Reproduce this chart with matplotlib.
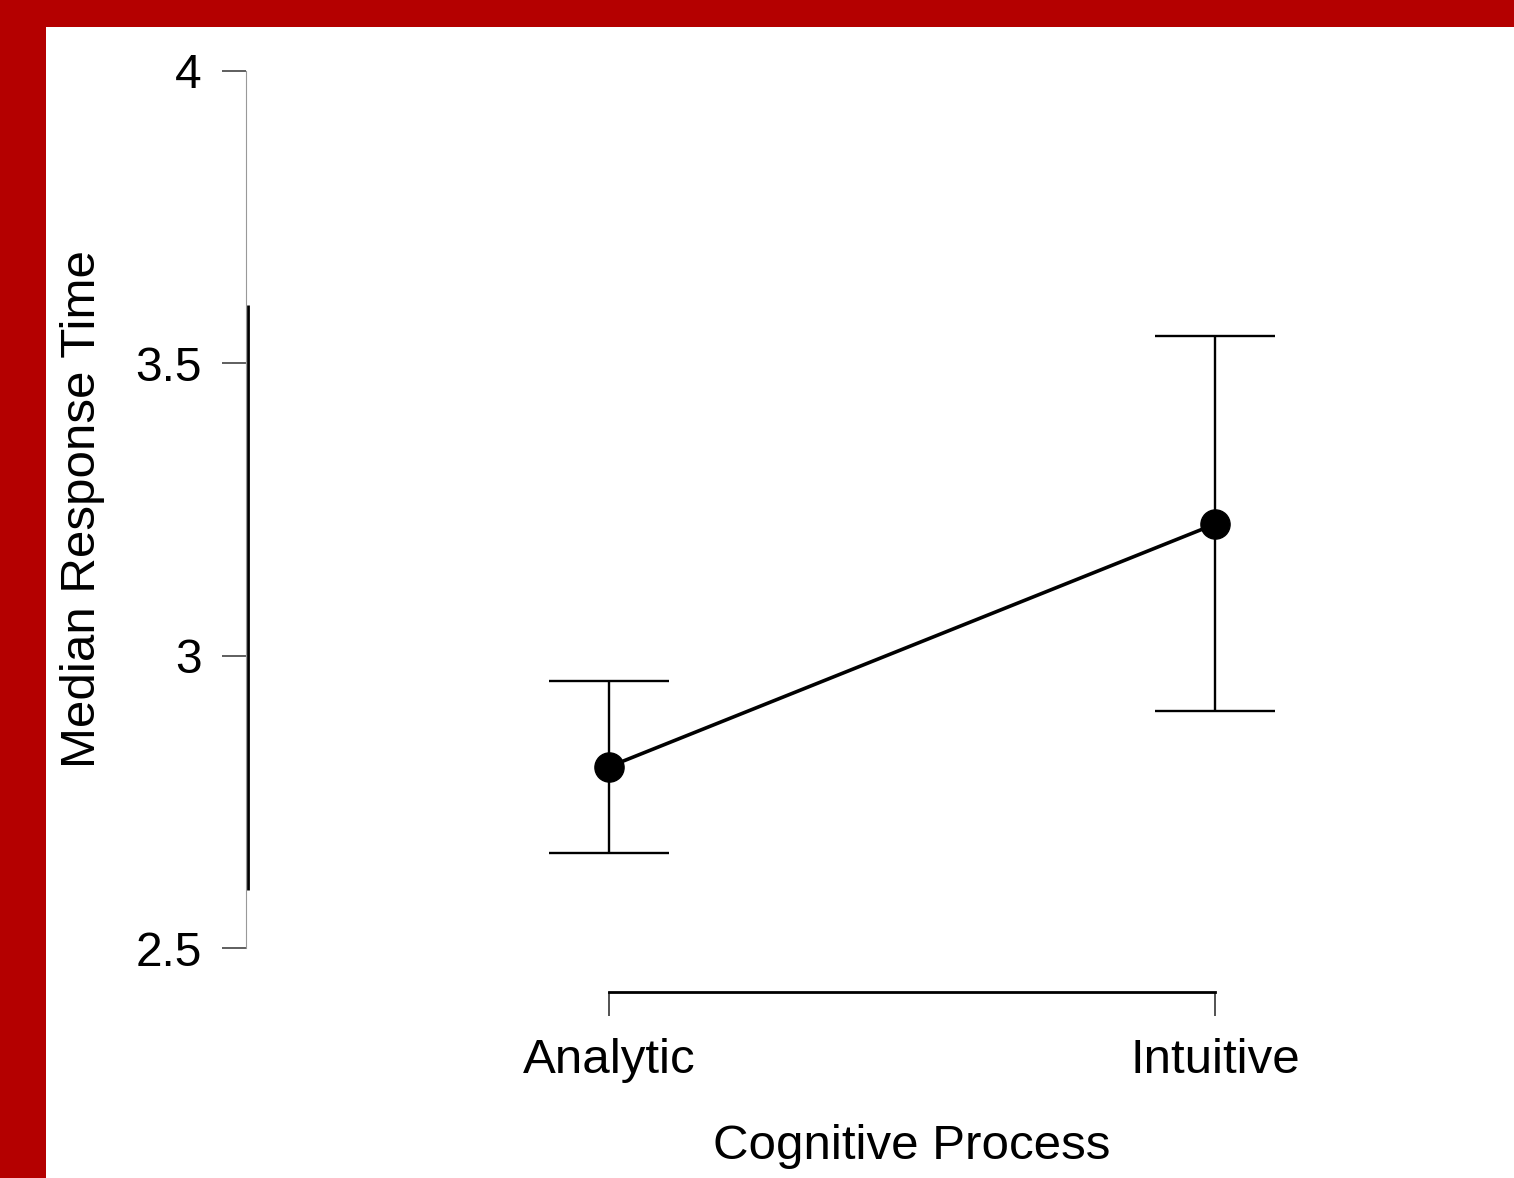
import numpy as np
import matplotlib
matplotlib.use("Agg")
import matplotlib.pyplot as plt
import matplotlib.transforms as mtransforms
from matplotlib.patches import Rectangle

plt.rcParams['font.family'] = ['Liberation Sans', 'DejaVu Sans']

# data
processes = ['Analytic', 'Intuitive']
medians = [2.81, 3.225]
ci_lower = [2.662, 2.906]
ci_upper = [2.957, 3.547]
y_ticks = [2.5, 3, 3.5, 4]
y_ticklabels = ['2.5', '3', '3.5', '4']

W, H = 1514, 1178
fig = plt.figure(figsize=(W / 100, H / 100), dpi=100, facecolor='#B40000')
# white panel inside the red frame
fig.patches.append(Rectangle((46 / W, 0), 1 - 46 / W, 1 - 27 / H, transform=fig.transFigure,
                             facecolor='white', edgecolor='none', zorder=-10))

ax_l, ax_r, ax_b, ax_t = 246, 1460, 948, 71
ax = fig.add_axes([ax_l / W, 1 - ax_b / H, (ax_r - ax_l) / W, (ax_b - ax_t) / H])
ax.set_facecolor('none')

x = np.arange(len(processes))
yerr = [np.array(medians) - np.array(ci_lower), np.array(ci_upper) - np.array(medians)]
ax.errorbar(x, medians, yerr=yerr, fmt='none', ecolor='black', elinewidth=1.7,
            capsize=43, capthick=1.7, zorder=2)
ax.plot(x, medians, color='black', lw=2.6, marker='o', ms=21, zorder=3)

# limits so that categories fall where they do in the picture
px_per_unit = 606
ax.set_xlim(-(609 - ax_l) / px_per_unit, (ax_r - 609) / px_per_unit)
ax.set_ylim(2.5, 4)

for s in ['top', 'right']:
    ax.spines[s].set_visible(False)
ax.spines['left'].set_color('#999999')
ax.spines['left'].set_linewidth(0.8)
ax.spines['left'].set_bounds(2.5, 4)
ax.spines['bottom'].set_position(('outward', 31.5))
ax.spines['bottom'].set_bounds(0, 1)
ax.spines['bottom'].set_linewidth(2.0)

# thick segment over the data range on the y axis
lo = np.floor(min(ci_lower) * 10) / 10
hi = np.ceil(max(ci_upper) * 10) / 10
trans = mtransforms.blended_transform_factory(ax.transAxes, ax.transData)
ax.plot([0.0015, 0.0015], [lo, hi], color='black', lw=2.0, transform=trans, clip_on=False,
        solid_capstyle='butt')

ax.set_yticks(y_ticks)
ax.set_yticklabels(y_ticklabels)
ax.set_xticks(x)
ax.set_xticklabels(processes)
ax.tick_params(axis='y', length=17, width=1.1, color='#333333', pad=15, labelsize=34.5)
ax.tick_params(axis='x', length=17, width=1.3, color='#444444', pad=16, labelsize=35.5)

ax.set_xlabel('Cognitive Process', fontsize=35.5)
ax.set_ylabel('Median Response Time', fontsize=35.5)
ax.xaxis.set_label_coords(0.5, (ax_b - 1124) / (ax_b - ax_t),
                          transform=mtransforms.blended_transform_factory(ax.transData, ax.transAxes))
ax.yaxis.set_label_coords((105 - ax_l) / (ax_r - ax_l), 0.5)

fig.savefig('out.png', dpi=100, facecolor=fig.get_facecolor())
